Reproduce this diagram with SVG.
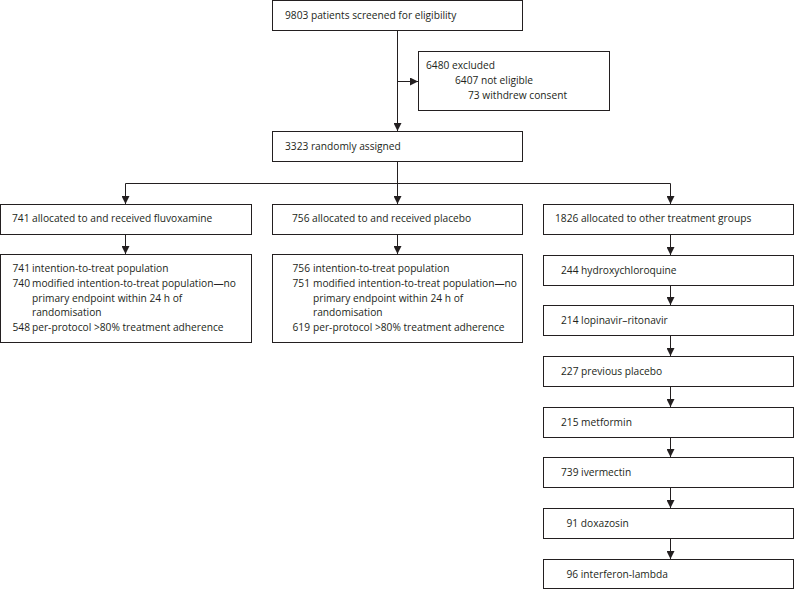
<svg xmlns="http://www.w3.org/2000/svg" width="794" height="590" viewBox="0 0 794 590">
<style>
.box{fill:#fff;stroke:#231f20;stroke-width:1}
.t{font-family:"Open Sans","Noto Sans",sans-serif;font-size:10.2px;fill:#231f20}
.e{text-anchor:end}
.c{fill:none;stroke:#231f20;stroke-width:1}
</style>
<defs>
<marker id="arr" viewBox="0 0 8 8" refX="8" refY="4" markerWidth="8" markerHeight="8" orient="auto" markerUnits="userSpaceOnUse"><path d="M0,0 L8,4 L0,8 z" fill="#231f20"/></marker>
</defs>
<rect width="794" height="590" fill="#fff"/>
<g id="connectors">
<path class="c" d="M397.5,31 V131" marker-end="url(#arr)"/>
<path class="c" d="M397.5,81.5 H418" marker-end="url(#arr)"/>
<path class="c" d="M397.5,162 V204" marker-end="url(#arr)"/>
<path class="c" d="M397.5,183.5 H125.5 V204" marker-end="url(#arr)"/>
<path class="c" d="M397.5,183.5 H670.5 V204" marker-end="url(#arr)"/>
<path class="c" d="M125.5,235 V254" marker-end="url(#arr)"/>
<path class="c" d="M397.5,235 V254" marker-end="url(#arr)"/>
<path class="c" d="M670.5,235 V255" marker-end="url(#arr)"/>
<path class="c" d="M670.5,286 V305" marker-end="url(#arr)"/>
<path class="c" d="M670.5,336 V356" marker-end="url(#arr)"/>
<path class="c" d="M670.5,387 V407" marker-end="url(#arr)"/>
<path class="c" d="M670.5,438 V457" marker-end="url(#arr)"/>
<path class="c" d="M670.5,488 V508" marker-end="url(#arr)"/>
<path class="c" d="M670.5,539 V559" marker-end="url(#arr)"/>
</g>
<g id="screened">
<rect class="box" x="272.5" y="0.5" width="250" height="30"/>
<text class="t" x="285" y="19">9803 patients screened for eligibility</text>
</g>
<g id="excluded">
<rect class="box" x="418.5" y="51.5" width="191" height="59"/>
<text class="t" x="426" y="69">6480 excluded</text>
<text class="t" x="455" y="84">6407 not eligible</text>
<text class="t" x="468" y="99">73 withdrew consent</text>
</g>
<g id="randomised">
<rect class="box" x="272.5" y="131.5" width="250" height="30"/>
<text class="t" x="285" y="150">3323 randomly assigned</text>
</g>
<g id="fluvoxamine">
<rect class="box" x="0.5" y="204.5" width="251" height="30"/>
<text class="t" x="12" y="222">741 allocated to and received fluvoxamine</text>
</g>
<g id="placebo">
<rect class="box" x="272.5" y="204.5" width="250" height="30"/>
<text class="t" x="292" y="222">756 allocated to and received placebo</text>
</g>
<g id="other">
<rect class="box" x="543.5" y="204.5" width="250" height="30"/>
<text class="t" x="555" y="222">1826 allocated to other treatment groups</text>
</g>
<g id="fluvoxamine-pop">
<rect class="box" x="0.5" y="254.5" width="251" height="88"/>
<text class="t e" x="30" y="272">741</text>
<text class="t" x="32" y="272">intention-to-treat population</text>
<text class="t e" x="30" y="286.8">740</text>
<text class="t" x="32" y="286.8">modified intention-to-treat population—no</text>
<text class="t" x="32" y="301.5">primary endpoint within 24 h of</text>
<text class="t" x="32" y="316.2">randomisation</text>
<text class="t e" x="30" y="331">548</text>
<text class="t" x="32" y="331">per-protocol &gt;80% treatment adherence</text>
</g>
<g id="placebo-pop">
<rect class="box" x="272.5" y="254.5" width="250" height="88"/>
<text class="t e" x="310" y="272">756</text>
<text class="t" x="313" y="272">intention-to-treat population</text>
<text class="t e" x="310" y="286.8">751</text>
<text class="t" x="313" y="286.8">modified intention-to-treat population—no</text>
<text class="t" x="313" y="301.5">primary endpoint within 24 h of</text>
<text class="t" x="313" y="316.2">randomisation</text>
<text class="t e" x="310" y="331">619</text>
<text class="t" x="313" y="331">per-protocol &gt;80% treatment adherence</text>
</g>
<g id="hcq">
<rect class="box" x="543.5" y="255.5" width="250" height="30"/>
<text class="t" x="561" y="274">244 hydroxychloroquine</text>
</g>
<g id="lopinavir">
<rect class="box" x="543.5" y="305.5" width="250" height="30"/>
<text class="t" x="561" y="324">214 lopinavir–ritonavir</text>
</g>
<g id="prev-placebo">
<rect class="box" x="543.5" y="356.5" width="250" height="30"/>
<text class="t" x="561" y="375">227 previous placebo</text>
</g>
<g id="metformin">
<rect class="box" x="543.5" y="407.5" width="250" height="30"/>
<text class="t" x="561" y="426">215 metformin</text>
</g>
<g id="ivermectin">
<rect class="box" x="543.5" y="457.5" width="250" height="30"/>
<text class="t" x="561" y="476">739 ivermectin</text>
</g>
<g id="doxazosin">
<rect class="box" x="543.5" y="508.5" width="250" height="30"/>
<text class="t" x="566.5" y="527">91 doxazosin</text>
</g>
<g id="interferon">
<rect class="box" x="543.5" y="559.5" width="250" height="29"/>
<text class="t" x="566.5" y="578">96 interferon-lambda</text>
</g>
</svg>
